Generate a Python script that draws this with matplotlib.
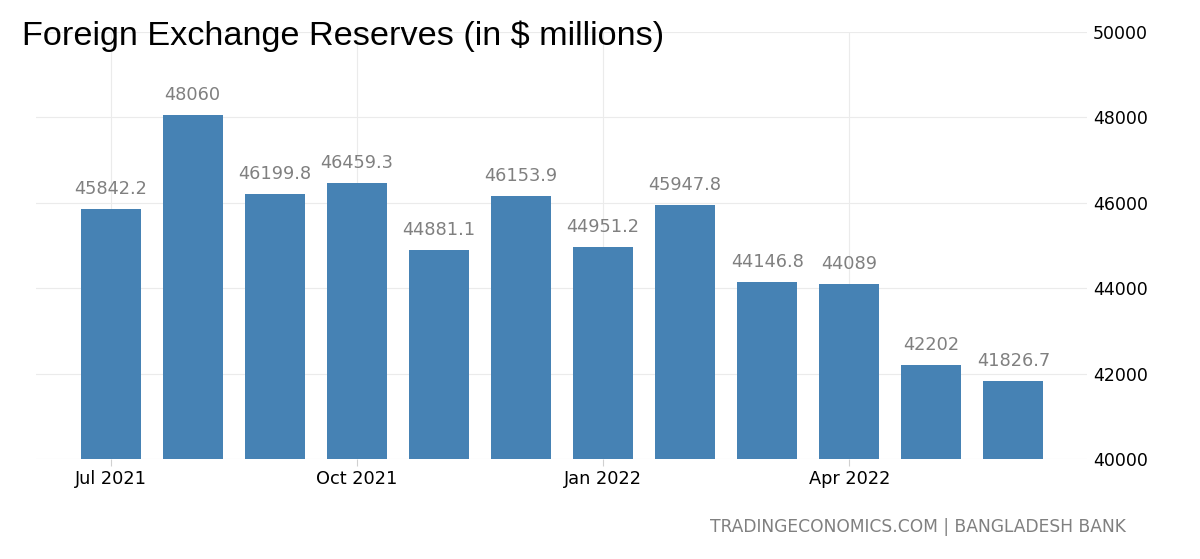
import matplotlib.pyplot as plt

months = ['Jun 2021', 'Jul 2021', 'Aug 2021', 'Sep 2021', 'Oct 2021', 'Nov 2021',
          'Dec 2021', 'Jan 2022', 'Feb 2022', 'Mar 2022', 'Apr 2022', 'May 2022']
reserves = [45842.2, 48060, 46199.8, 46459.3, 44881.1, 46153.9,
            44951.2, 45947.8, 44146.8, 44089, 42202, 41826.7]
value_labels = ['45842.2', '48060', '46199.8', '46459.3', '44881.1', '46153.9',
                '44951.2', '45947.8', '44146.8', '44089', '42202', '41826.7']
tick_pos = [0, 3, 6, 9]
tick_labels = ['Jul 2021', 'Oct 2021', 'Jan 2022', 'Apr 2022']
y_ticks = [40000, 42000, 44000, 46000, 48000, 50000]

fig = plt.figure(figsize=(12, 5.59), dpi=100)
ax = fig.add_axes([0.03, 0.179, 0.876, 0.764])

x = list(range(len(months)))
ax.bar(x, reserves, width=0.73, color='#4682b4', zorder=2)
for xi, v, lab in zip(x, reserves, value_labels):
    ax.text(xi, v + 260, lab, ha='center', va='bottom', fontsize=12.8,
            color='#808080', clip_on=False)

ax.set_xlim(-0.91, 11.9)
ax.set_ylim(40000, 50000)
ax.set_xticks(tick_pos)
ax.set_xticklabels(tick_labels, fontsize=12.8)
ax.set_yticks(y_ticks)
ax.yaxis.tick_right()
ax.tick_params(axis='y', length=0, labelsize=12.5, pad=4)
ax.tick_params(axis='x', length=5, color='#d0d0d0', pad=3)
ax.grid(True, color='#ebebeb', linewidth=0.8, zorder=0)
for s in ax.spines.values():
    s.set_visible(False)

fig.text(0.018, 0.936, 'Foreign Exchange Reserves (in $ millions)',
         fontsize=24.7, family='Liberation Sans', va='center', ha='left')
fig.text(0.938, 0.057, 'TRADINGECONOMICS.COM | BANGLADESH BANK',
         fontsize=12.3, color='#808080', ha='right', va='center')

fig.savefig('out.png', dpi=100)
